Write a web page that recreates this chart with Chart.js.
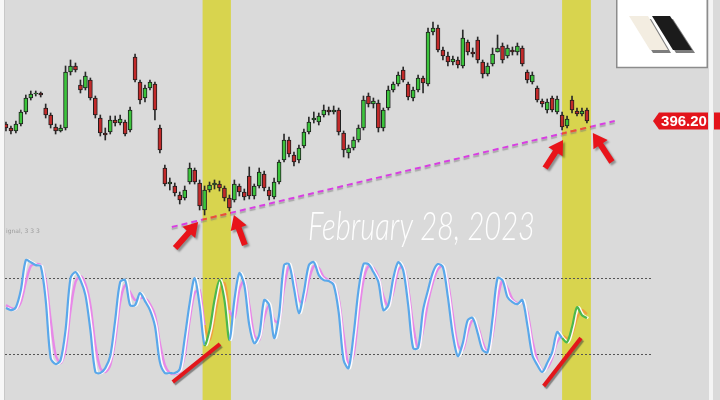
<!DOCTYPE html>
<html>
<head>
<meta charset="utf-8">
<script src="https://cdn.jsdelivr.net/npm/chart.js@4.4.1/dist/chart.umd.min.js"></script>
<style>
  html, body { margin: 0; padding: 0; background: #dadada; }
  #wrap { width: 720px; height: 400px; }
</style>
</head>
<body>
<div id="wrap"><canvas id="chart" width="720" height="400"></canvas></div>
<script>
// candles (one per bar, left to right)
const open = [395.6,394.8,394.2,395.6,398.0,400.8,401.6,401.8,398.8,397.4,
  395.0,394.2,394.8,406.0,407.2,403.4,402.8,404.4,400.8,396.8,
  393.8,394.0,396.4,395.8,396.0,394.4,409.0,404.0,400.8,402.8,
  403.6,394.8,386.8,383.6,383.2,381.4,380.8,384.0,386.4,383.8,
  378.4,382.4,383.4,383.6,382.8,380.8,380.4,383.2,382.0,385.2,
  381.2,383.2,385.6,382.4,381.0,384.0,388.4,392.4,389.4,388.4,
  391.2,394.0,396.4,396.0,397.4,398.4,398.0,398.4,393.8,389.8,
  390.8,392.4,394.8,401.2,399.6,399.8,394.8,398.8,402.4,403.6,
  406.4,403.6,400.8,402.4,404.8,403.6,414.0,414.8,410.4,409.2,
  408.0,408.4,407.2,412.0,410.0,412.4,408.0,405.6,407.6,410.0,
  411.2,409.2,410.4,410.0,410.8,406.0,404.0,402.8,400.2,398.4,
  400.8,398.0,397.4,395.2,400.4,398.2,397.6,398.4];
const high = [396.0,395.2,396.2,398.4,401.4,402.2,402.2,402.0,399.6,397.8,
  395.6,395.4,407.2,408.4,407.8,404.4,406.0,404.8,401.2,397.4,
  394.8,397.2,397.2,397.4,396.4,399.0,409.6,404.4,403.4,404.4,
  404.0,395.4,387.4,384.8,383.8,382.0,383.2,387.8,386.8,384.4,
  383.2,384.0,384.4,384.2,383.2,381.4,384.4,383.6,382.6,387.0,
  383.6,386.8,386.2,383.0,384.8,388.4,393.6,393.0,390.0,391.4,
  394.6,397.0,398.0,397.8,399.4,399.0,399.2,398.8,394.2,391.4,
  393.0,395.4,401.2,401.8,400.8,400.4,398.8,403.2,404.0,406.0,
  407.0,404.0,403.0,405.4,405.2,414.8,416.0,415.4,411.0,410.0,
  409.2,409.0,414.4,412.4,410.8,413.0,408.4,407.8,410.8,413.4,
  411.8,411.4,411.0,411.8,411.2,406.4,406.0,403.2,400.6,400.6,
  401.2,401.2,398.0,397.2,401.2,398.8,398.8,398.8];
const low = [394.2,393.6,393.8,395.2,397.6,400.4,401.2,401.0,396.8,394.8,
  393.6,394.0,394.4,405.4,406.0,401.8,402.4,400.4,396.8,393.2,
  392.4,393.6,395.2,395.4,393.2,394.0,404.0,399.6,400.0,402.4,
  396.4,389.8,383.2,382.4,381.2,379.6,380.4,383.6,383.6,378.4,
  377.4,382.0,382.6,382.2,380.2,378.2,380.0,381.2,380.4,380.6,
  380.6,382.8,382.2,380.4,380.6,383.6,388.0,389.0,387.2,387.8,
  390.8,393.6,395.8,395.4,397.0,397.4,397.6,393.4,389.0,388.8,
  390.4,392.0,394.4,399.0,398.8,394.0,394.2,398.4,402.0,403.2,
  404.0,400.4,400.2,402.0,401.8,403.2,413.4,410.0,408.4,407.2,
  407.4,406.8,406.8,409.4,409.0,407.8,404.8,405.2,407.2,410.0,
  407.8,408.8,409.4,409.4,407.2,403.8,403.6,400.0,399.0,397.8,
  398.0,397.6,394.4,394.8,397.8,397.2,397.2,395.8];
const close = [394.8,394.2,395.6,398.0,400.8,401.6,401.8,401.4,397.4,395.4,
  394.2,394.8,406.0,407.2,406.4,402.4,405.2,400.8,397.4,393.8,
  393.4,396.4,395.8,396.6,393.6,398.4,404.4,400.4,402.8,404.0,
  398.4,390.4,383.6,384.0,381.8,380.4,382.4,386.8,384.0,379.2,
  382.4,383.4,383.8,382.8,380.8,378.8,383.6,382.0,381.0,381.2,
  383.2,386.0,382.8,381.2,384.0,388.0,392.4,389.6,388.0,390.8,
  394.0,396.0,396.8,397.2,398.4,398.0,398.4,394.0,390.4,390.8,
  392.4,394.8,400.4,399.6,400.2,394.8,398.4,402.4,403.6,405.4,
  404.4,401.0,402.4,404.8,403.8,414.0,414.8,410.4,409.2,408.0,
  408.6,407.4,412.8,410.0,409.6,408.4,405.6,407.2,409.6,410.8,
  408.4,410.8,410.0,411.2,407.6,404.4,405.4,400.4,399.6,400.0,
  398.4,400.6,395.0,396.6,398.4,397.6,398.2,396.2];

// stochastic %K (blue) and %D (pink)
const stochK = [56.3,54.7,57.0,70.5,94.1,92.5,90.2,89.4,62.6,16.8,
  12.1,15.2,38.9,79.9,84.7,78.3,66.5,38.9,5.8,5.0,
  8.9,18.4,46.8,76.8,78.3,58.6,58.6,68.1,61.8,54.7,
  42.1,13.6,5.0,5.0,5.0,8.1,32.6,60.2,79.9,58.6,
  27.1,38.9,62.6,78.3,62.6,31.0,62.6,83.9,74.4,42.8,
  28.6,35.0,62.6,58.6,32.6,50.7,90.2,91.0,72.0,52.3,
  68.9,90.2,92.5,82.3,78.3,77.6,74.4,53.1,15.2,8.9,
  35.0,70.5,91.0,91.0,84.7,76.8,54.7,58.6,79.9,92.5,
  86.2,58.6,24.7,24.7,54.7,70.5,84.7,91.0,88.6,64.9,
  35.0,18.4,28.6,46.8,48.4,36.5,23.1,21.5,48.4,79.9,
  78.3,64.9,61.0,59.4,62.6,42.8,19.2,11.3,5.8,12.9,
  21.5,37.3,32.6,29.4,41.3,57.0,50.7,48.4];
const stochD = [58.6,56.3,55.5,61.0,76.8,89.4,91.0,90.2,78.3,46.8,
  19.2,12.9,23.1,54.7,76.8,81.5,75.2,58.6,27.1,8.9,
  5.8,11.3,31.0,61.0,74.4,68.9,62.6,64.1,64.1,59.4,
  50.7,28.6,11.3,5.0,4.2,5.8,19.2,46.8,68.1,70.5,
  42.8,31.0,48.4,68.9,76.0,54.7,48.4,70.5,78.3,58.6,
  35.0,31.0,48.4,58.6,46.8,45.2,72.0,89.4,81.5,62.6,
  61.0,78.3,89.4,87.8,80.7,78.3,76.0,64.1,35.0,11.3,
  19.2,50.7,78.3,89.4,87.8,80.7,65.7,57.8,68.9,86.2,
  89.4,72.0,42.8,24.7,38.9,61.0,76.8,87.0,89.4,76.8,
  50.7,27.1,23.1,37.3,46.8,42.1,29.4,21.5,35.0,62.6,
  78.3,72.0,63.4,60.2,61.0,53.1,31.0,15.2,7.3,8.9,
  16.8,29.4,34.2,32.6,35.7,48.4,54.7,51.5];
const stochLevels = [80, 20];

// highlighted bar ranges (bar index from..to)
const bands = [[39.6, 45.3], [112.0, 117.8]];
// support trendline: bar index, price
const trendIdx = [33.4, 122.6];
const trendPrice = [375.0, 396.2];
// divergence lines on the oscillator: bar index, value
const div1Idx = [33.6, 43.1], div1Val = [-2.1, 27.9];
const div2Idx = [108.3, 115.8], div2Val = [-5.3, 32.6];
// arrow tips: bar index, price
const arrowIdx = [38.7, 45.9, 112.2, 118.2];
const arrowPrice = [376.0, 377.4, 392.4, 393.8];
const dateText = 'February 28, 2023';

const idx = close.map((_, i) => i);
const pts = (xs, ys) => xs.map((x, i) => ({ x: x, y: ys[i] }));
const inBand = v => bands.some(b => v >= b[0] && v <= b[1]);
const up = idx.map(i => close[i] >= open[i]);

function arrow(ctx, hx, hy, tx, ty) {
  const a = Math.atan2(hy - ty, hx - tx);
  const L = Math.hypot(hx - tx, hy - ty);
  ctx.save();
  ctx.translate(tx, ty);
  ctx.rotate(a);
  ctx.beginPath();
  ctx.moveTo(0, -3); ctx.lineTo(L - 14, -3); ctx.lineTo(L - 14, -8.5);
  ctx.lineTo(L, 0);
  ctx.lineTo(L - 14, 8.5); ctx.lineTo(L - 14, 3); ctx.lineTo(0, 3);
  ctx.closePath();
  ctx.shadowColor = 'rgba(0,0,0,0.35)';
  ctx.shadowOffsetX = 2; ctx.shadowOffsetY = 2; ctx.shadowBlur = 2;
  ctx.fillStyle = '#e8141a';
  ctx.fill();
  ctx.restore();
}

const decor = {
  id: 'decor',
  beforeDraw(chart) {
    const { ctx, scales: { x } } = chart;
    ctx.save();
    ctx.fillStyle = '#dadada';
    ctx.fillRect(0, 0, 720, 400);
    ctx.fillStyle = 'rgb(216,212,78)';
    bands.forEach(b => {
      const l = x.getPixelForValue(b[0]), r = x.getPixelForValue(b[1]);
      ctx.fillRect(l, 0, r - l, 400);
    });
    ctx.restore();
  },
  beforeDatasetsDraw(chart) {
    const { ctx, scales: { x, y2 } } = chart;
    ctx.save();
    ctx.strokeStyle = '#555';
    ctx.lineWidth = 1;
    ctx.setLineDash([2, 2]);
    stochLevels.forEach(v => {
      const py = Math.round(y2.getPixelForValue(v)) + 0.5;
      ctx.beginPath();
      ctx.moveTo(5, py);
      ctx.lineTo(x.getPixelForValue(130), py);
      ctx.stroke();
    });
    ctx.restore();
  },
  beforeDatasetDraw(chart, args) {
    const s = chart.data.datasets[args.index].shadow;
    if (!s) return;
    const ctx = chart.ctx;
    ctx.save();
    ctx.shadowColor = s[0];
    ctx.shadowOffsetX = s[1];
    ctx.shadowOffsetY = s[2];
    ctx.shadowBlur = s[3];
  },
  afterDatasetDraw(chart, args) {
    if (chart.data.datasets[args.index].shadow) chart.ctx.restore();
  },
  afterDatasetsDraw(chart) {
    const { ctx, scales: { x, y } } = chart;
    // trendline recoloured inside the highlighted ranges
    const tm = chart.getDatasetMeta(4).data;
    bands.forEach(b => {
      const l = x.getPixelForValue(b[0]), r = x.getPixelForValue(b[1]);
      ctx.save();
      ctx.beginPath(); ctx.rect(l, 0, r - l, 400); ctx.clip();
      ctx.strokeStyle = '#e8582a';
      ctx.lineWidth = 2;
      ctx.setLineDash([6, 4]);
      ctx.beginPath();
      ctx.moveTo(tm[0].x, tm[0].y); ctx.lineTo(tm[1].x, tm[1].y);
      ctx.stroke();
      ctx.restore();
    });

    // arrows
    const tails = [[-23, 26], [11, 30], [-18, 28], [19, 29]];
    arrowIdx.forEach((v, i) => {
      const hx = x.getPixelForValue(v), hy = y.getPixelForValue(arrowPrice[i]);
      arrow(ctx, hx, hy, hx + tails[i][0], hy + tails[i][1]);
    });

    // date caption
    ctx.save();
    ctx.font = 'italic 300 40px Lato';
    const w = ctx.measureText(dateText).width;
    ctx.translate(308, 240);
    ctx.scale(227 / w, 1);
    ctx.fillStyle = 'rgba(255,255,255,0.96)';
    ctx.textBaseline = 'alphabetic';
    ctx.fillText(dateText, 0, 0);
    ctx.restore();

    // indicator caption
    ctx.save();
    ctx.font = '6px "DejaVu Sans"';
    ctx.fillStyle = '#9c9c9c';
    ctx.fillText('ignal, 3 3 3', 6, 233);
    ctx.restore();

    // edge strips
    ctx.save();
    ctx.fillStyle = '#f7f7f7';
    ctx.fillRect(0, 0, 4, 400);
    ctx.fillStyle = '#c8c8c8';
    ctx.fillRect(4, 0, 1, 400);
    ctx.fillStyle = '#f4f4f4';
    ctx.fillRect(709, 0, 4, 400);
    ctx.restore();

    // last price tag
    const last = close[close.length - 1];
    const py = Math.round(y.getPixelForValue(last));
    ctx.save();
    ctx.fillStyle = '#e3141b';
    ctx.beginPath();
    ctx.moveTo(653, py); ctx.lineTo(659, py - 8.5); ctx.lineTo(708, py - 8.5);
    ctx.lineTo(708, py + 8.5); ctx.lineTo(659, py + 8.5); ctx.closePath();
    ctx.fill();
    ctx.fillRect(714, py - 8.5, 6, 17);
    ctx.fillStyle = '#fff';
    ctx.font = 'bold 15px "Liberation Sans"';
    ctx.textAlign = 'center';
    ctx.textBaseline = 'middle';
    ctx.fillText(last.toFixed(2), 684, py + 1);
    ctx.restore();

    // logo
    ctx.save();
    ctx.fillStyle = '#fff';
    ctx.fillRect(616, 0, 92, 68);
    ctx.strokeStyle = '#8c8c8c';
    ctx.lineWidth = 1.5;
    ctx.strokeRect(616.75, -1, 90.5, 68.5);
    const para = (pts, fill) => {
      ctx.beginPath();
      pts.forEach((p, i) => i ? ctx.lineTo(p[0], p[1]) : ctx.moveTo(p[0], p[1]));
      ctx.closePath();
      ctx.fillStyle = fill;
      ctx.fill();
    };
    const cream = [[629, 16], [648, 16], [668, 50], [650, 50]];
    const dark = [[652, 16], [670, 16], [692, 50], [673, 50]];
    para(cream.map(p => [p[0] + 3, p[1] + 3]), '#7d7d7d');
    para(cream, '#f3ede1');
    para(dark.map(p => [p[0] + 3, p[1] + 3]), '#7d7d7d');
    para(dark, '#1b1b1b');
    ctx.restore();
  }
};

new Chart(document.getElementById('chart'), {
  type: 'bar',
  data: {
    datasets: [
      {
        type: 'bar', label: 'wick', order: 6, grouped: false, yAxisID: 'y',
        data: idx.map(i => ({ x: i, y: [low[i], high[i]] })),
        backgroundColor: '#2a2a2a', barThickness: 1, borderWidth: 0
      },
      {
        type: 'bar', label: 'body', order: 5, grouped: false, yAxisID: 'y',
        data: idx.map(i => ({ x: i, y: [open[i], close[i]] })),
        backgroundColor: idx.map(i => up[i] ? '#3cc43c' : '#c22a2a'),
        borderColor: '#1e1e1e', borderWidth: 1, borderSkipped: false,
        barThickness: 4
      },
      {
        type: 'line', label: '%D', order: 4, yAxisID: 'y2',
        data: pts(idx, stochD),
        borderWidth: 2.4, pointRadius: 0, tension: 0.3,
        borderColor: '#e888e8',
        segment: { borderColor: c => inBand((c.p0DataIndex + c.p1DataIndex) / 2) ? '#f0a040' : '#e888e8' }
      },
      {
        type: 'line', label: '%K', order: 3, yAxisID: 'y2',
        data: pts(idx, stochK),
        borderWidth: 2.2, pointRadius: 0, tension: 0.3,
        borderColor: '#5aa8ea',
        segment: { borderColor: c => inBand((c.p0DataIndex + c.p1DataIndex) / 2) ? '#4cb84c' : '#5aa8ea' },
        shadow: ['rgba(255,255,255,0.95)', 1.5, 0, 0]
      },
      {
        type: 'line', label: 'trend', order: 2, yAxisID: 'y',
        data: pts(trendIdx, trendPrice),
        borderColor: '#d83fe2', borderWidth: 2, borderDash: [6, 4],
        pointRadius: 0, tension: 0,
        shadow: ['rgba(120,120,120,0.5)', 0, 2, 1]
      },
      {
        type: 'line', label: 'div1', order: 1, yAxisID: 'y2',
        data: pts(div1Idx, div1Val),
        borderColor: '#e3161b', borderWidth: 4, pointRadius: 0, tension: 0,
        shadow: ['rgba(60,60,60,0.55)', 1.5, 2, 1]
      },
      {
        type: 'line', label: 'div2', order: 1, yAxisID: 'y2',
        data: pts(div2Idx, div2Val),
        borderColor: '#e3161b', borderWidth: 4, pointRadius: 0, tension: 0,
        shadow: ['rgba(60,60,60,0.55)', 1.5, 2, 1]
      }
    ]
  },
  options: {
    responsive: false,
    animation: false,
    devicePixelRatio: 1,
    events: [],
    layout: { padding: 0 },
    plugins: { legend: { display: false }, tooltip: { enabled: false } },
    scales: {
      x: { type: 'linear', display: false, min: -1.2, max: 143.8, offset: false },
      y: { display: false, min: 340.4, max: 420.4 },
      y2: { display: false, min: -16.3, max: 299.5 }
    }
  },
  plugins: [decor]
});
</script>
</body>
</html>
